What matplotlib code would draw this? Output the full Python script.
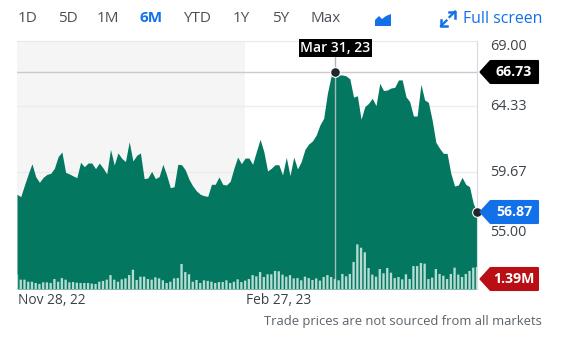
import matplotlib.pyplot as plt
import numpy as np
from matplotlib.patches import Polygon, Rectangle

plt.rcParams['font.family'] = ['Open Sans', 'DejaVu Sans']

W, H = 566, 359

ranges = ['1D', '5D', '1M', '6M', 'YTD', '1Y', '5Y', 'Max']
range_x = [18, 58, 97, 140, 183, 233, 272, 310]
active_range = '6M'

price_ticks = ['69.00', '64.33', '59.67', '55.00']
grid_prices = [64.33, 59.67]
date_labels = ['Nov 28, 22', 'Feb 27, 23']
note = 'Trade prices are not sourced from all markets'

prices = [58.12, 57.95, 58.77, 59.55, 60.27, 59.36, 58.96, 59.31, 59.52, 59.59,
          59.95, 60.77, 61.10, 59.66, 59.55, 59.41, 59.29, 60.37, 60.06, 60.32,
          60.32, 59.92, 60.32, 59.97, 59.55, 61.28, 60.18, 61.03, 60.65, 60.42,
          61.82, 60.46, 60.86, 61.03, 59.22, 59.27, 59.73, 59.22, 59.36, 60.23,
          59.48, 58.58, 58.65, 60.23, 60.20, 59.83, 59.17, 58.70, 58.35, 58.12,
          58.02, 57.97, 58.82, 58.82, 59.34, 58.82, 58.77, 59.03, 59.95, 60.74,
          60.27, 60.67, 60.67, 60.23, 61.12, 61.99, 61.12, 59.76, 59.95, 60.20,
          60.20, 59.48, 60.72, 59.43, 60.74, 59.90, 60.42, 61.28, 61.66, 61.87,
          62.29, 63.00, 63.47, 65.23, 66.45, 66.73, 66.52, 66.52, 66.45, 66.24,
          64.95, 65.06, 63.40, 64.29, 64.52, 64.88, 64.36, 65.93, 65.42, 65.46,
          65.60, 65.65, 66.17, 66.17, 64.99, 64.64, 63.63, 63.63, 65.86, 64.76,
          64.59, 63.35, 61.78, 61.35, 61.00, 61.00, 59.59, 58.70, 58.77, 59.31,
          58.82, 58.65, 57.48, 56.87]

# volume in millions
volumes = [0.91, 0.59, 0.59, 0.46, 0.46, 0.38, 0.32, 0.42, 0.42, 0.38,
           0.63, 0.46, 0.69, 0.59, 0.42, 0.44, 0.40, 0.38, 0.38, 0.38,
           0.34, 0.32, 0.46, 0.51, 0.59, 0.88, 0.59, 0.46, 0.61, 0.67,
           0.88, 1.22, 0.57, 0.78, 0.78, 0.63, 0.59, 0.74, 0.67, 0.55,
           0.38, 0.46, 0.67, 0.69, 1.58, 1.07, 0.93, 0.46, 0.57, 0.38,
           0.55, 0.51, 0.46, 0.38, 0.44, 0.44, 0.55, 0.38, 0.46, 0.61,
           0.44, 0.53, 0.63, 0.88, 0.80, 1.07, 0.76, 0.93, 0.93, 1.14,
           1.12, 0.91, 0.78, 0.88, 0.67, 0.69, 0.55, 0.78, 0.69, 0.57,
           0.67, 0.53, 0.76, 0.88, 0.76, 0.63, 0.55, 0.95, 0.80, 0.95,
           1.71, 2.82, 2.61, 2.32, 1.33, 0.91, 0.78, 1.26, 0.99, 1.33,
           1.03, 0.69, 0.76, 0.61, 0.93, 0.63, 1.45, 1.45, 1.64, 1.60,
           0.63, 0.72, 1.26, 0.95, 0.84, 0.63, 0.95, 1.35, 0.91, 0.76,
           0.95, 1.14, 1.35, 1.39]

high_idx = 85
split_idx = 61
high_date = 'Mar 31, 23'
high_label = '66.73'
last_label = '56.87'
volume_label = '1.39M'

GREEN = '#03775f'
BLUE = '#1270e8'

fig = plt.figure(figsize=(W / 100, H / 100), dpi=100)

# overlay in pixel coords for the page furniture
page = fig.add_axes([0, 0, 1, 1], zorder=5)
page.set_xlim(0, W)
page.set_ylim(H, 0)
page.axis('off')
page.patch.set_alpha(0)

# main chart, 17-477 px wide and 41-289 px high
ax = fig.add_axes([17 / W, 1 - 289 / H, 460 / W, 248 / H], zorder=1)
ax.set_xlim(0, len(prices) - 1)
ax.set_ylim(51.45, 68.91)
x = np.arange(len(prices))

ax.axvspan(0, split_idx, color='#f5f5f5', lw=0, zorder=0)
for p in grid_prices:
    ax.axhline(p, color='#ececec', lw=1, zorder=1)
ax.fill_between(x, prices, 51.45, color=GREEN, lw=0, zorder=2)
ax.axvline(high_idx, color='#a9b9b6', lw=1, zorder=3)
ax.axhline(prices[high_idx], color='#c9c9d2', lw=1, zorder=3)
ax.set_xticks([])
ax.set_yticks([])
for side in ['left', 'bottom']:
    ax.spines[side].set_visible(False)
ax.spines['top'].set_color('#e8e8e8')
ax.spines['right'].set_color('#d9d9e6')

# volume bars on their own scale, same area
vol = fig.add_axes(ax.get_position(), zorder=2)
vol.patch.set_alpha(0)
vol.set_xlim(0, len(prices) - 1)
vol.set_ylim(0, 15.67)
bars = vol.bar(x, volumes, width=0.62, color='#b5dcd2', lw=0)
for b in bars:
    b.set_snap(False)
vol.axis('off')

# markers on top of everything in the chart
dots = fig.add_axes(ax.get_position(), zorder=3)
dots.patch.set_alpha(0)
dots.set_xlim(0, len(prices) - 1)
dots.set_ylim(51.45, 68.91)
dots.plot([high_idx, len(prices) - 1], [prices[high_idx], prices[-1]], 'o', ms=7,
          color='#22262a', mec='white', mew=0.8, ls='none', clip_on=False)
dots.axis('off')

# range selector
for name, rx in zip(ranges, range_x):
    is_active = name == active_range
    page.text(rx, 18.5, name, fontsize=11, va='center', ha='left',
              color=BLUE if is_active else '#4a5056',
              fontweight='bold' if is_active else 'normal')

# area chart icon
page.add_patch(Polygon([(375, 26), (375, 20), (379, 16), (382, 19), (386, 16), (391, 14),
                        (391, 26)], closed=True, color=BLUE, lw=0))

# full screen icon, two corner arrows
page.plot([449, 455, 455], [11.5, 11.5, 17.5], color=BLUE, lw=1.8, solid_joinstyle='miter')
page.plot([455, 449.5], [11.5, 17], color=BLUE, lw=1.6)
page.plot([441, 441, 447], [20, 26, 26], color=BLUE, lw=1.8, solid_joinstyle='miter')
page.plot([441, 446.5], [26, 20.5], color=BLUE, lw=1.6)
page.text(542, 19, 'Full screen', fontsize=11.4, color=BLUE, ha='right', va='center')

# price labels
for txt, py in zip(price_ticks, [46.5, 106.5, 172.5, 232.5]):
    page.text(508.5, py, txt, fontsize=10.4, color='#3c4248', ha='center', va='center')

# date labels and note
page.text(18, 300, date_labels[0], fontsize=9.9, color='#3c4248', va='center')
page.text(246, 300, date_labels[1], fontsize=9.9, color='#3c4248', va='center')
page.text(542, 321, note, fontsize=9.4, color='#5b636a', ha='right', va='center')


def tag(top, bottom, color, label):
    mid = (top + bottom) / 2
    # inset outline with a round join gives the soft corners
    page.add_patch(Polygon([(480.5, mid), (490.5, top + 1), (538, top + 1), (538, bottom - 1), (490.5, bottom - 1)],
                           closed=True, fc=color, ec=color, lw=1.5, joinstyle='round'))
    page.text(514, mid, label, color='white', fontsize=10.2, fontweight='bold', ha='center', va='center')


tag(60, 84, '#000000', high_label)
tag(200, 224, BLUE, last_label)
tag(267, 291, '#b90f14', volume_label)

page.add_patch(Rectangle((299, 39), 73, 18, color='black', lw=0))
page.text(335.5, 48, high_date, color='white', fontsize=10.1, fontweight='semibold', ha='center', va='center')

fig.savefig('out.png', dpi=100)
